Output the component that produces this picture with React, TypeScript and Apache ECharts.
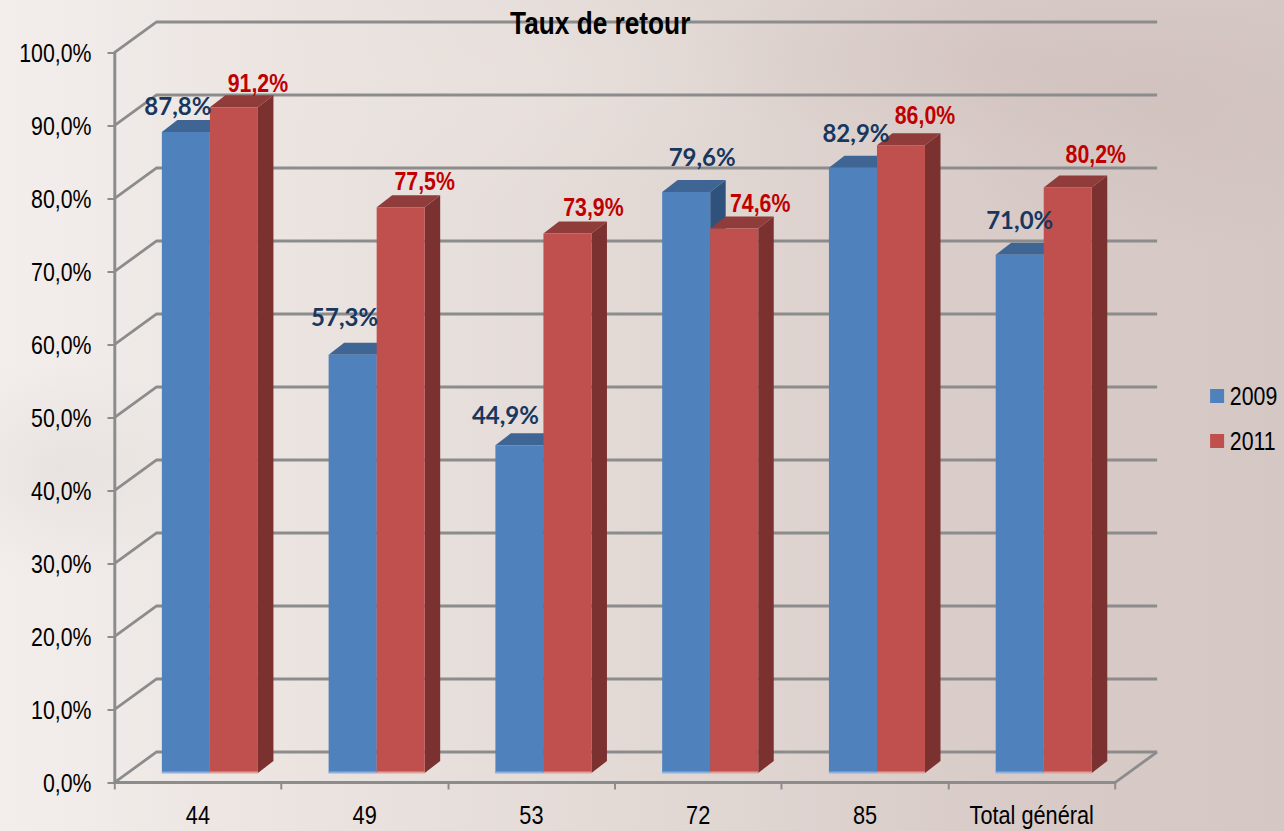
import React, { useEffect, useRef } from "react";
import * as echarts from "echarts";

const categories = ["44", "49", "53", "72", "85", "Total général"];
const values2009 = [87.8, 57.3, 44.9, 79.6, 82.9, 71.0];
const values2011 = [91.2, 77.5, 73.9, 74.6, 86.0, 80.2];
const gridTicks = [0, 10, 20, 30, 40, 50, 60, 70, 80, 90, 100];

// The reference is a horizontally squeezed picture: the chart is drawn wider, then squeezed by K.
const K = 0.82;
const px = (n: number) => n / K;

// Hand placement of the data labels, relative to the front top-left corner of each bar
const nudge2009 = [[16, -27], [16, -38], [10, -31], [40, -35], [27, -35], [24, -35]];
const nudge2011 = [[48, -25], [48, -27], [50, -27], [50, -26], [48, -30], [52, -34]];

const FONT = '"Liberation Sans", Arial, sans-serif';
const LABEL_BLUE = '"Lato", "Noto Sans", sans-serif';
const GREY = "#8c8c8c";
const fmt = (v: number) => v.toFixed(1).replace(".", ",") + "%";

const WALL_DX = px(42);
const WALL_DY = -30.5;
const BAR_FLOOR_DY = -9.5;
const BAR_W = 0.288;
const TOP_DX = px(15.5);
const TOP_DY = -12;

function barRenderer(offsetBand: number, front: string, top: string, side: string, edge: string) {
  return (_params: any, api: any) => {
    const idx = api.value(0);
    const val = api.value(1);
    const band = api.size([1, 0])[0];
    const c = api.coord([idx, val]);
    const base = api.coord([idx, 0]);
    const w = band * BAR_W;
    const x0 = c[0] + band * offsetBand;
    const x1 = x0 + w;
    const yT = c[1] + BAR_FLOOR_DY;
    const yB = base[1] + BAR_FLOOR_DY;
    return {
      type: "group",
      children: [
        {
          type: "polygon",
          shape: { points: [[x1, yT], [x1 + TOP_DX, yT + TOP_DY], [x1 + TOP_DX, yB + TOP_DY], [x1, yB]] },
          style: { fill: side },
        },
        {
          type: "polygon",
          shape: { points: [[x0, yT], [x0 + TOP_DX, yT + TOP_DY], [x1 + TOP_DX, yT + TOP_DY], [x1, yT]] },
          style: { fill: top },
        },
        { type: "rect", shape: { x: x0, y: yT, width: w, height: yB - yT }, style: { fill: front } },
        { type: "rect", shape: { x: x0, y: yB - 1.5, width: w, height: 2 }, style: { fill: edge } },
      ],
    };
  };
}

function labelRenderer(
  offsetBand: number,
  nudges: number[][],
  fill: string,
  family: string,
  size: number,
  scaleX: number
) {
  return (_params: any, api: any) => {
    const idx = api.value(0);
    const val = api.value(1);
    const band = api.size([1, 0])[0];
    const c = api.coord([idx, val]);
    const n = nudges[idx];
    return {
      type: "text",
      x: c[0] + band * offsetBand + px(n[0]),
      y: c[1] + BAR_FLOOR_DY + n[1],
      scaleX,
      style: {
        text: fmt(val),
        x: 0,
        y: 0,
        fill,
        fontFamily: family,
        fontWeight: "bold",
        fontSize: size,
        align: "center",
        verticalAlign: "middle",
      },
    };
  };
}

function wallRenderer(params: any, api: any) {
  const v = api.value(0);
  const cs = params.coordSys;
  const y = api.coord([0, v])[1];
  const xL = cs.x;
  const xR = cs.x + cs.width;
  const lineStyle = { stroke: GREY, lineWidth: 3, fill: "none" };
  const children: any[] = [
    {
      type: "polyline",
      shape: { points: [[xL, y], [xL + WALL_DX, y + WALL_DY], [xR + WALL_DX, y + WALL_DY]] },
      style: lineStyle,
    },
  ];
  if (v === 0) {
    children.push({
      type: "line",
      shape: { x1: xR, y1: y, x2: xR + WALL_DX, y2: y + WALL_DY },
      style: lineStyle,
    });
  }
  return { type: "group", children };
}

export default function App() {
  const ref = useRef<HTMLDivElement>(null);
  useEffect(() => {
    const chart = echarts.init(ref.current!, null, { renderer: "svg" });
    const points2009 = values2009.map((v, i) => [i, v]);
    const points2011 = values2011.map((v, i) => [i, v]);
    chart.setOption({
      animation: false,
      backgroundColor: "transparent",
      title: {
        text: "Taux de retour",
        left: px(506),
        top: 2,
        textStyle: { fontFamily: FONT, fontSize: 32, fontWeight: "bold", color: "#000" },
      },
      legend: {
        orient: "vertical",
        left: px(1206),
        top: 378,
        itemWidth: px(14),
        itemHeight: 14,
        itemGap: 19,
        icon: "rect",
        data: ["2009", "2011"],
        textStyle: { fontFamily: FONT, fontSize: 26, color: "#000", padding: [0, 0, 0, 2] },
      },
      grid: { left: px(114.5), right: px(169), top: 52.5, bottom: 48.5 },
      xAxis: {
        type: "category",
        data: categories,
        axisLine: { lineStyle: { color: GREY, width: 3 } },
        axisTick: { show: true, length: 7, alignWithLabel: false, lineStyle: { color: GREY, width: 2.4 } },
        axisLabel: { fontFamily: FONT, fontSize: 26.5, color: "#000", margin: 19, interval: 0 },
        splitLine: { show: false },
      },
      yAxis: {
        type: "value",
        min: 0,
        max: 100,
        interval: 10,
        axisLine: { show: true, lineStyle: { color: GREY, width: 3.6 } },
        axisTick: { show: true, length: px(7), lineStyle: { color: GREY, width: 2 } },
        axisLabel: { fontFamily: FONT, fontSize: 26, color: "#000", margin: 28, formatter: fmt },
        splitLine: { show: false },
      },
      series: [
        {
          type: "custom",
          name: "walls",
          silent: true,
          z: 1,
          data: gridTicks.map((v) => [v]),
          encode: { y: 0 },
          renderItem: wallRenderer,
        },
        {
          type: "custom",
          name: "2009",
          z: 2,
          itemStyle: { color: "#4f81bd" },
          data: points2009,
          encode: { x: 0, y: 1 },
          renderItem: barRenderer(-0.216, "#4f81bd", "#3e6594", "#2f527c", "#8fb0dc"),
        },
        {
          type: "custom",
          name: "2011",
          z: 3,
          itemStyle: { color: "#c0504d" },
          data: points2011,
          encode: { x: 0, y: 1 },
          renderItem: barRenderer(0.072, "#c0504d", "#8f3c3a", "#7a3130", "#e0a09c"),
        },
        {
          type: "custom",
          name: "labels 2009",
          silent: true,
          z: 4,
          data: points2009,
          encode: { x: 0, y: 1 },
          renderItem: labelRenderer(-0.216, nudge2009, "#17375e", LABEL_BLUE, 24, 1 / K),
        },
        {
          type: "custom",
          name: "labels 2011",
          silent: true,
          z: 4,
          data: points2011,
          encode: { x: 0, y: 1 },
          renderItem: labelRenderer(0.072, nudge2011, "#c00000", FONT, 26, 1),
        },
      ],
    });
    return () => chart.dispose();
  }, []);

  const background = [
    "radial-gradient(ellipse 320px 90px at 1000px 60px, rgba(190,165,160,0.16), transparent)",
    "radial-gradient(ellipse 260px 120px at 1180px 130px, rgba(190,165,160,0.14), transparent)",
    "radial-gradient(ellipse 160px 110px at 60px 470px, rgba(215,210,205,0.35), transparent)",
    "radial-gradient(ellipse 260px 130px at 520px 80px, rgba(240,235,230,0.25), transparent)",
    "linear-gradient(90deg, #f3eeec 0%, #ebe4e1 22%, #e2d9d5 50%, #d8cbc8 78%, #d4c7c4 100%)",
  ].join(", ");

  return (
    <div style={{ position: "fixed", left: 0, top: 0, width: 1284, height: 831, background, overflow: "hidden" }}>
      <div
        ref={ref}
        style={{ width: 1284 / K, height: 831, transform: `scaleX(${K})`, transformOrigin: "0 0" }}
      />
    </div>
  );
}
